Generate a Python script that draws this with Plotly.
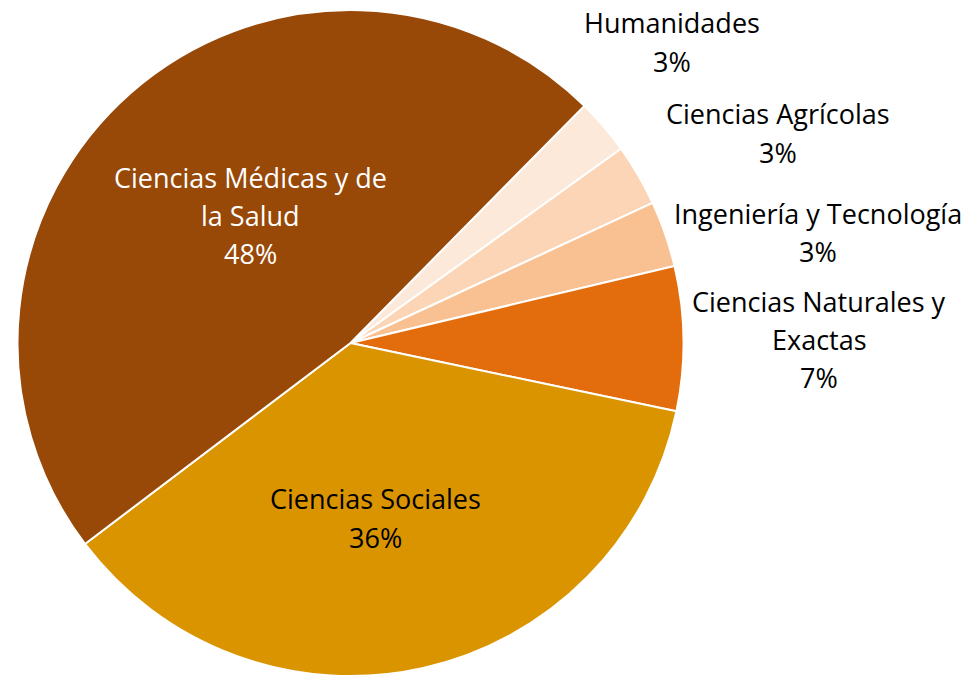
import plotly.graph_objects as go

# Data (clockwise from the slice after "Ciencias Médicas")
categories = ["Humanidades", "Ciencias Agrícolas", "Ingeniería y Tecnología",
              "Ciencias Naturales y Exactas", "Ciencias Sociales",
              "Ciencias Médicas y de la Salud"]
label_lines = [["Humanidades"], ["Ciencias Agrícolas"], ["Ingeniería y Tecnología"],
               ["Ciencias Naturales y", "Exactas"], ["Ciencias Sociales"],
               ["Ciencias Médicas y de", "la Salud"]]
values = [2.7, 3.0, 3.2, 7.0, 36.4, 47.7]
colors = ["#FDE9D9", "#FBD5B5", "#F9C091", "#E36C0C", "#DA9400", "#984807"]
text_colors = ["#000000", "#000000", "#000000", "#000000", "#000000", "#FFFFFF"]

W, H = 971, 676

# Label placement (pixel centre x, baselines of each line)
label_pos = [
    (672, [32, 71]),
    (778, [123, 162]),
    (818, [223, 261]),
    (819, [311, 349, 387]),
    (375, [508, 547]),
    (250, [187, 225, 263]),
]

FS = 27
FONT = "Open Sans"

cx_pie, cy_pie, r_pie = 350.5, 344, 334
fig = go.Figure(go.Pie(
    labels=categories,
    values=values,
    sort=False,
    direction="clockwise",
    rotation=44.6,
    marker=dict(colors=colors, line=dict(color="white", width=2)),
    textinfo="none",
    hoverinfo="label+percent",
    domain=dict(x=[(cx_pie - r_pie) / W, (cx_pie + r_pie) / W],
                y=[max(0, 1 - (cy_pie + r_pie) / H), 1 - (cy_pie - r_pie) / H]),
))

total = sum(values)
annotations = []
for lines, v, (cx, baselines), tc in zip(label_lines, values, label_pos, text_colors):
    texts = lines + [f"{round(v / total * 100)}%"]
    for t, b in zip(texts, baselines):
        mid = b - 0.37 * FS
        annotations.append(dict(
            text=t, x=cx / W, y=1 - mid / H,
            xref="paper", yref="paper", xanchor="center", yanchor="middle",
            showarrow=False, font=dict(family=FONT, size=FS, color=tc),
        ))

fig.update_layout(
    width=W, height=H,
    margin=dict(l=0, r=0, t=0, b=0),
    paper_bgcolor="white", plot_bgcolor="white",
    showlegend=False,
    annotations=annotations,
)

fig.write_html("out.html",
               config={"displayModeBar": False},
               post_script="document.body.style.margin='0';document.body.style.overflow='hidden';")
